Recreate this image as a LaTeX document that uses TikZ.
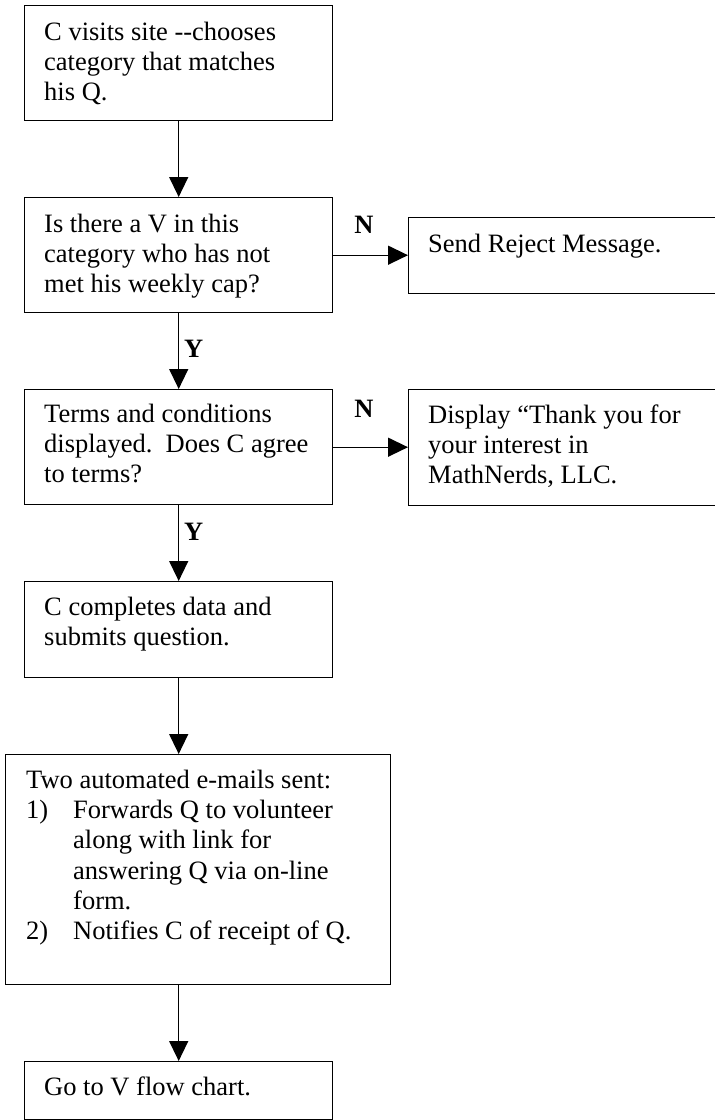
\documentclass[tikz,border=0pt]{standalone}
\usepackage{fontspec}
\setmainfont{Liberation Serif}
\usetikzlibrary{arrows.meta}
\begin{document}
\begin{tikzpicture}[x=1pt,y=-1pt,
  box/.style={draw, line width=1.4pt, inner sep=0pt, anchor=north west},
  txt/.style={anchor=north west, inner sep=0pt, align=left, font=\fontsize{26.5}{30.3}\selectfont},
  lbl/.style={inner sep=0pt, font=\fontsize{26.5}{30.3}\selectfont\bfseries},
  arr/.style={line width=1.4pt, -{Triangle[length=20pt,width=19pt]}}]
\useasboundingbox (0,0) rectangle (715,1120);
\clip (0,0) rectangle (715,1120);
% boxes
\node[box, minimum width=308pt, minimum height=115pt] (b1) at (24,5) {};
\node[box, minimum width=308pt, minimum height=115pt] (b2) at (24,197) {};
\node[box, minimum width=320pt, minimum height=76pt] (r1) at (408,217) {};
\node[box, minimum width=308pt, minimum height=115pt] (b3) at (24,389) {};
\node[box, minimum width=320pt, minimum height=116pt] (r2) at (408,389) {};
\node[box, minimum width=308pt, minimum height=96pt] (b4) at (24,581) {};
\node[box, minimum width=385pt, minimum height=230pt] (b5) at (5,754) {};
\node[box, minimum width=308pt, minimum height=58pt] (b6) at (24,1061) {};
% texts
\node[txt] (t1) at (44,18.8) {\strut C visits site -{}-chooses\\category that matches\\his Q.};
\node[txt] (t2) at (44,210.8) {\strut Is there a V in this\\category who has not\\met his weekly cap?};
\node[txt] (t3) at (428,230.8) {\strut Send Reject Message.};
\node[txt] (t4) at (44,400.8) {\strut Terms and conditions\\displayed.~~Does C agree\\to terms?};
\node[txt] (t5) at (428,401.8) {\strut Display “Thank you for\\your interest in\\MathNerds, LLC.};
\node[txt] (t6) at (44,593.8) {\strut C completes data and\\submits question.};
\node[txt] (t7) at (26,766.8) {\strut Two automated e-mails sent:\\
  \makebox[47pt][l]{1)}Forwards Q to volunteer\\
  \hspace*{47pt}along with link for\\
  \hspace*{47pt}answering Q via on-line\\
  \hspace*{47pt}form.\\
  \makebox[47pt][l]{2)}Notifies C of receipt of Q.};
\node[txt] (t8) at (44,1073.8) {\strut Go to V flow chart.};
% connectors
\draw[arr] (b1.south) -- (b2.north);
\draw[arr] (b2.east) -- (b2.east -| r1.west);
\draw[arr] (b2.south) -- (b3.north);
\draw[arr] (b3.east) -- (b3.east -| r2.west);
\draw[arr] (b3.south) -- (b4.north);
\draw[arr] (b4.south) -- (b4.south |- b5.north);
\draw[arr] (b6.north |- b5.south) -- (b6.north);
% labels
\node[lbl, anchor=base] (n1) at (364,233) {N};
\node[lbl, anchor=base] (n2) at (364,417) {N};
\node[lbl, anchor=base west] (y1) at (184,357) {Y};
\node[lbl, anchor=base west] (y2) at (184,540) {Y};
\end{tikzpicture}
\end{document}
